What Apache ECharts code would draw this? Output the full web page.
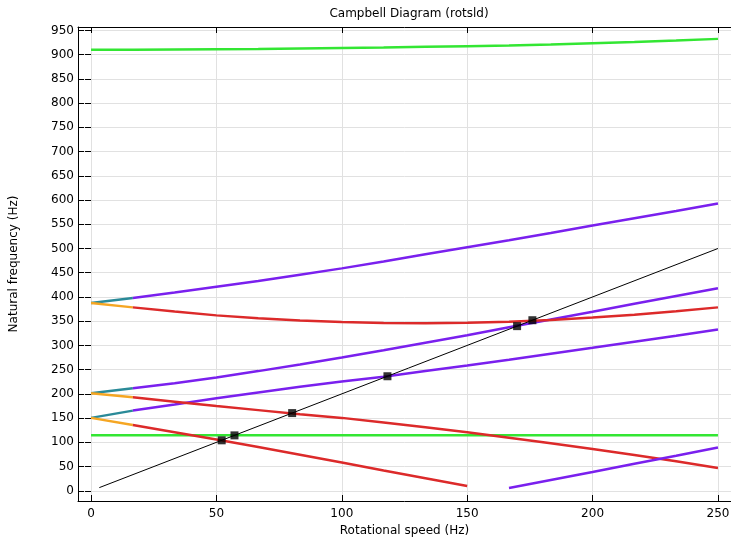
<!DOCTYPE html>
<html><head><meta charset="utf-8">
<script src="https://cdn.jsdelivr.net/npm/echarts@6/dist/echarts.min.js"></script>
<style>html,body{margin:0;padding:0;background:#fff}#c{width:731px;height:538px}</style>
</head><body><div id="c"></div>
<script>
// ---- data ----
const speeds = [0, 16.67, 33.33, 50, 66.67, 83.33, 100, 116.67, 133.33, 150, 166.67, 183.33, 200, 216.67, 233.33, 250];
const greenTop  = [910, 910, 910.5, 911, 911.5, 912.5, 913.5, 914.5, 916, 917.5, 919, 921, 923.5, 926, 929, 932.5];
const fwd1 = [387.5, 398, 409, 421, 433, 446, 459, 473, 488, 502.5, 517, 532, 547.5, 562.5, 577.5, 593];
const bwd1 = [387.5, 378.5, 370, 362, 356, 351.5, 348.5, 346.5, 346, 347, 349, 352.5, 357.5, 363.5, 370.5, 378.5];
const fwd2 = [201.5, 211.5, 222, 234, 247, 260.5, 275, 290, 305.5, 321, 337.5, 353.5, 369.5, 386, 402, 418];
const bwd2 = [201.5, 193, 184, 175, 166.5, 158, 150.5, 141, 131, 121, 109.5, 98, 86.5, 74, 61, 47];
const fwd3 = [150.5, 165.5, 178, 191, 203, 214.5, 225.5, 235.5, 247, 258.5, 270.5, 283, 295, 307.5, 320, 333];
const bwd3Speeds = [0, 16.67, 33.33, 50, 66.67, 83.33, 100, 116.67, 133.33, 150];
const bwd3 = [150.5, 136, 121, 106, 90.5, 74.5, 58.5, 42, 26, 10];
const fwd4Speeds = [166.67, 183.33, 200, 216.67, 233.33, 250];
const fwd4 = [6, 22.5, 39, 56, 72.5, 89.3];
const greenFlat = [114.5, 114.5, 114.5, 114.5, 114.5, 114.5, 114.5, 114.5, 114.5, 114.5, 114.5, 114.5, 114.5, 114.5, 114.5, 114.5];
const excitationSpeeds = [3.3, 250];
const excitationFreqs = [6.6, 500];
const crossSpeeds = [52.1, 57.2, 80.2, 118.2, 169.9, 176];
const crossFreqs = [104.2, 114.4, 160.4, 236.4, 339.8, 352];
const xTicks = [0, 50, 100, 150, 200, 250];
const yTicks = [0, 50, 100, 150, 200, 250, 300, 350, 400, 450, 500, 550, 600, 650, 700, 750, 800, 850, 900, 950];

const C = { teal:'#2a8a98', orange:'#f5a623', purple:'#7a20ee', red:'#dc2a2a', green:'#33e633', black:'#000' };
const FONT = 'DejaVu Sans';

function pts(xs, ys, a, b) { const o = []; for (let i = a; i <= b; i++) o.push([xs[i], ys[i]]); return o; }
function line(data, color, w) {
  return { type:'line', data, symbol:'none', showSymbol:false, silent:true, animation:false,
           lineStyle:{ color, width: w || 2.5 }, itemStyle:{ color }, z: 2 };
}
const series = [];
series.push(line(pts(speeds, greenTop, 0, speeds.length - 1), C.green));
series.push(line(pts(speeds, greenFlat, 0, speeds.length - 1), C.green));
[fwd1, fwd2, fwd3].forEach(m => {
  series.push(line(pts(speeds, m, 0, 1), C.teal));
  series.push(line(pts(speeds, m, 1, speeds.length - 1), C.purple));
});
[bwd1, bwd2].forEach(m => {
  series.push(line(pts(speeds, m, 0, 1), C.orange));
  series.push(line(pts(speeds, m, 1, speeds.length - 1), C.red));
});
series.push(line(pts(bwd3Speeds, bwd3, 0, 1), C.orange));
series.push(line(pts(bwd3Speeds, bwd3, 1, bwd3Speeds.length - 1), C.red));
series.push(line(pts(fwd4Speeds, fwd4, 0, fwd4Speeds.length - 1), C.purple));
const ex = line(pts(excitationSpeeds, excitationFreqs, 0, 1), C.black, 1); ex.z = 3;
series.push(ex);
series.push({ type:'scatter', data: pts(crossSpeeds, crossFreqs, 0, crossSpeeds.length - 1), symbol:'rect',
  symbolSize:8, itemStyle:{ color:'#000' }, silent:true, animation:false, z:4 });

const XMIN = -5.2, XMAX = 255.2, YMIN = -21, YMAX = 957;
const txt = { color:'#000', fontSize:12, fontFamily:FONT };
const chart = echarts.init(document.getElementById('c'), null, { renderer:'canvas' });
chart.setOption({
  animation:false,
  backgroundColor:'#fff',
  title:{ text:'Campbell Diagram (rotsld)', left:404, top:3, textAlign:'center',
          textStyle:{ color:'#000', fontSize:12, fontWeight:'normal', fontFamily:FONT } },
  grid:{ left:78, right:0, top:27, bottom:37, containLabel:false, outerBoundsMode:'none' },
  xAxis:[
    { type:'value', min:XMIN, max:XMAX, position:'bottom',
      axisLine:{ show:true, onZero:false, lineStyle:{ color:'#000', width:1 } },
      axisTick:{ show:true, inside:true, length:6, customValues:xTicks, lineStyle:{ color:'#000' } },
      axisLabel:{ customValues:xTicks, margin:7, ...txt },
      splitLine:{ show:true, lineStyle:{ color:'#e1e1e1', width:1 } },
      name:'Rotational speed (Hz)', nameLocation:'middle', nameGap:19, nameTextStyle:{ ...txt } },
    { type:'value', min:XMIN, max:XMAX, position:'top',
      axisLine:{ show:true, onZero:false, lineStyle:{ color:'#000', width:1 } },
      axisTick:{ show:true, inside:true, length:6, customValues:xTicks, lineStyle:{ color:'#000' } },
      axisLabel:{ show:false }, splitLine:{ show:false } }
  ],
  yAxis:[
    { type:'value', min:YMIN, max:YMAX, position:'left',
      axisLine:{ show:true, onZero:false, lineStyle:{ color:'#000', width:1 } },
      axisTick:{ show:true, inside:true, length:6, customValues:yTicks, lineStyle:{ color:'#000' } },
      axisLabel:{ customValues:yTicks, margin:4, ...txt },
      splitLine:{ show:true, lineStyle:{ color:'#e1e1e1', width:1 } },
      name:'Natural frequency (Hz)', nameLocation:'middle', nameGap:58, nameTextStyle:{ ...txt } },
    { type:'value', min:YMIN, max:YMAX, position:'right',
      axisLine:{ show:false },
      axisTick:{ show:true, inside:true, length:6, customValues:yTicks, lineStyle:{ color:'#000' } },
      axisLabel:{ show:false }, splitLine:{ show:false } }
  ],
  series
});
</script></body></html>
